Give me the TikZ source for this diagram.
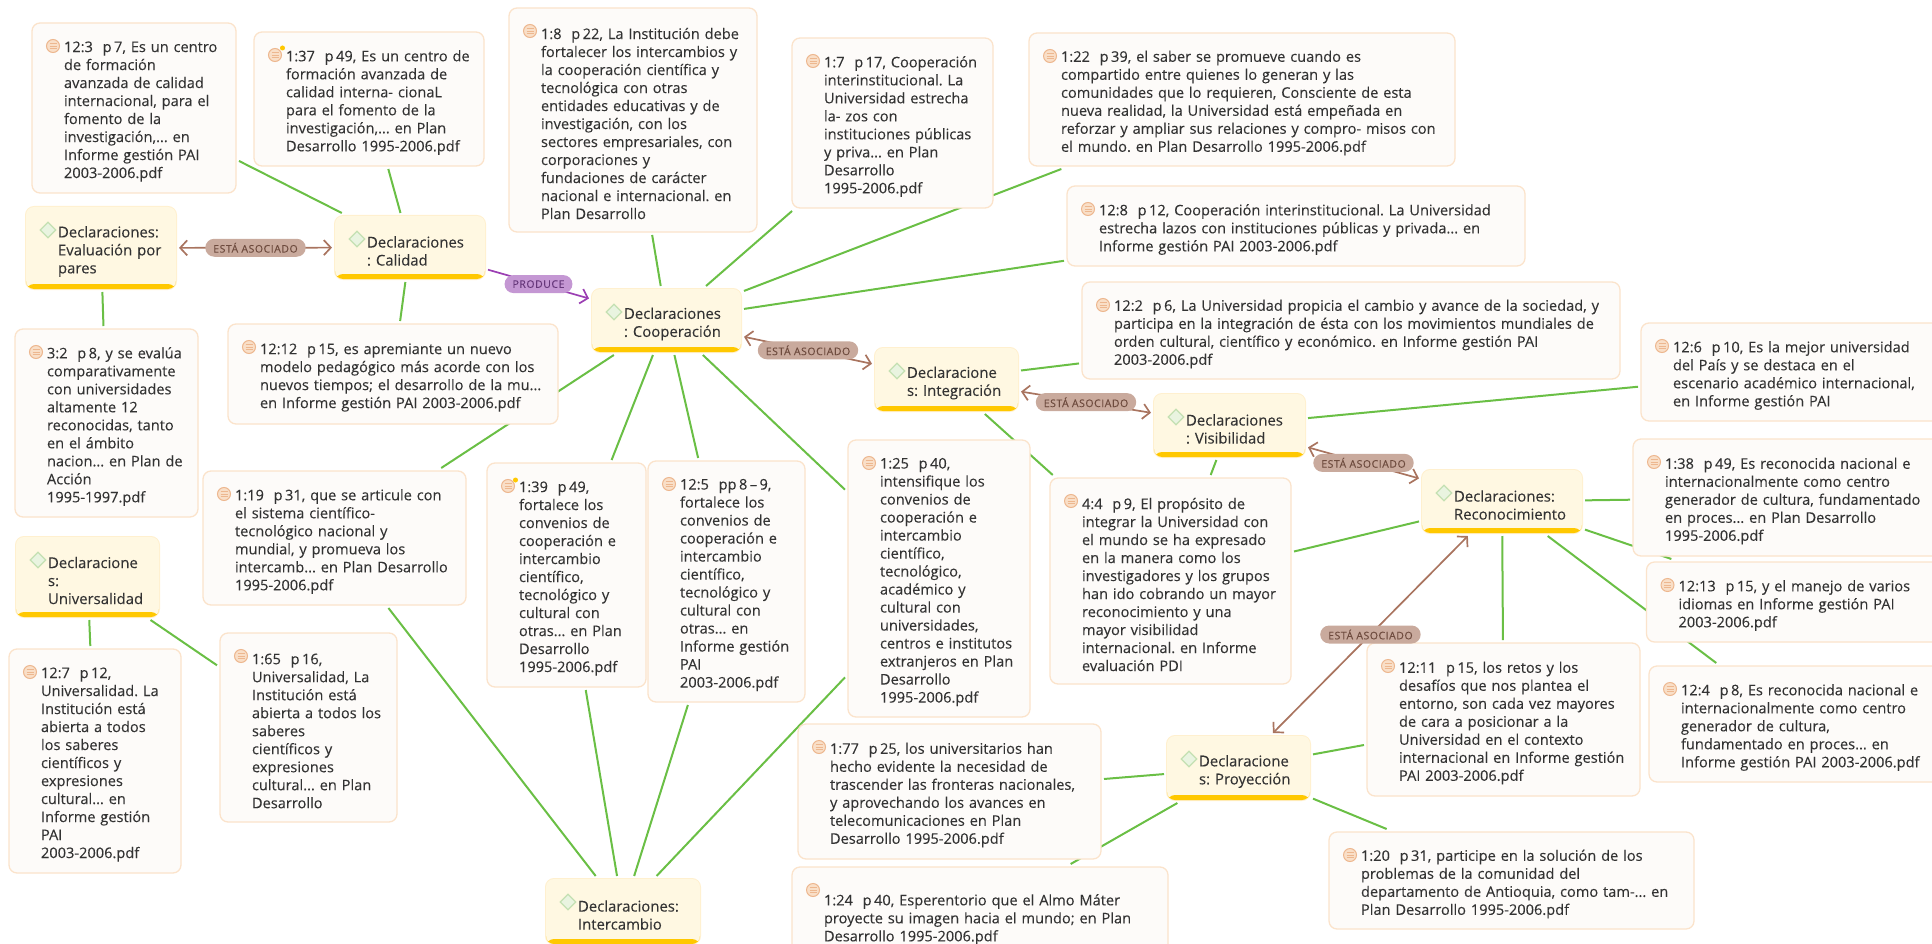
\documentclass[tikz,border=0pt]{standalone}
\usepackage{fontspec}
\setmainfont[FakeBold=0.12]{Open Sans}
\frenchspacing
\usetikzlibrary{arrows.meta, shapes.geometric, positioning, calc, backgrounds}
\definecolor{quotefill}{HTML}{FDFBF9}
\definecolor{quoteline}{HTML}{FBE3CB}
\definecolor{declfill}{HTML}{FFF8E2}
\definecolor{declline}{HTML}{FFF0CF}
\definecolor{declbar}{HTML}{FFC800}
\definecolor{iconfill}{HTML}{F9DFC8}
\definecolor{iconline}{HTML}{EDB78F}
\definecolor{diamondfill}{HTML}{E9F4E0}
\definecolor{diamondline}{HTML}{C4E0B2}
\definecolor{linkgreen}{HTML}{6ABF45}
\definecolor{assoc}{HTML}{A9745F}
\definecolor{assocpill}{HTML}{C9AA9D}
\definecolor{assoctext}{HTML}{6E4B3E}
\definecolor{prodline}{HTML}{9B3FB3}
\definecolor{prodpill}{HTML}{C497D3}
\definecolor{prodtext}{HTML}{66377A}
\definecolor{bodytext}{HTML}{333333}
\tikzset{
   myquoteicon/.style={circle, draw=iconline, fill=iconfill, line width=1pt, minimum size=13pt, inner sep=0pt,
      path picture={\draw[iconline, line width=.9pt]
         ($(path picture bounding box.center)+(-3.5,-2.5)$) -- +(7,0)
         ($(path picture bounding box.center)+(-3.5,0)$) -- +(7,0)
         ($(path picture bounding box.center)+(-3.5,2.5)$) -- +(7,0);}},
   mydeclicon/.style={diamond, aspect=1, draw=diamondline, fill=diamondfill, line width=1.2pt, minimum size=16pt, inner sep=0pt},
   mydot/.style={circle, fill=declbar, minimum size=5pt, inner sep=0pt},
   mytext/.style 2 args={rounded corners=8pt, inner xsep=4pt, inner ysep=0pt, outer sep=3pt,
      text=bodytext, align=left, font=\fontsize{14.6}{18}\selectfont, text width=#1-8, minimum height=#2,
      execute at begin node={\leftskip=28pt}, execute at end node={\par\kern-7pt}},
   myquote/.style 2 args={mytext={#1}{#2}, draw=quoteline, line width=1.3pt, fill=quotefill,
      append after command={node[myquoteicon] at ($(\tikzlastnode.north west)+(24,26)$) {}}},
   mydecl/.style 2 args={mytext={#1}{#2}, font=\fontsize{14.9}{18}\selectfont, preaction={draw=declline, line width=2pt}, fill=declfill,
      path picture={\fill[declbar] ([yshift=5pt]path picture bounding box.south west) rectangle (path picture bounding box.south east);},
      append after command={node[mydeclicon] at ($(\tikzlastnode.north west)+(25,26)$) {}}},
   mylink/.style={draw=linkgreen, line width=2pt},
   mypill/.style={rounded corners=9pt, minimum height=18pt, inner xsep=8pt, inner ysep=0pt,
      font=\fontsize{10.5}{12}\selectfont\addfontfeature{LetterSpace=5}},
   myassoc/.style={draw=assoc, line width=1.7pt, >={Straight Barb[length=7pt,width=15pt]}},
   myprod/.style={draw=prodline, line width=1.7pt, >={Straight Barb[length=7pt,width=15pt]}},
   assocpill/.style={mypill, fill=assocpill, text=assoctext},
   prodpill/.style={mypill, fill=prodpill, text=prodtext}
}
\begin{document}
\begin{tikzpicture}[x=1pt,y=-1pt]
      \useasboundingbox (0,0) rectangle (1932,944);
      \node[myquote={204}{170}] (q123) at (134,108) {12:3\ \ p\,7, Es un centro\\de formación\\avanzada de calidad\\internacional, para el\\fomento de la\\investigación,... en\\Informe gestión PAI\\2003-2006.pdf};
      \node[myquote={230}{134}] (q137) at (369,99) {1:37\ \ p\,49, Es un centro de\\formación avanzada de\\calidad interna- cionaL\\para el fomento de la\\investigación,... en Plan\\Desarrollo 1995-2006.pdf};
      \node[myquote={248}{224}] (q18) at (633,120) {1:8\ \ p\,22, La Institución debe\\fortalecer los intercambios y\\la cooperación científica y\\tecnológica con otras\\entidades educativas y de\\investigación, con los\\sectores empresariales, con\\corporaciones y\\fundaciones de carácter\\nacional e internacional. en\\Plan Desarrollo};
      \node[myquote={201}{170}] (q17) at (892.5,123) {1:7\ \ p\,17, Cooperación\\interinstitucional. La\\Universidad estrecha\\la- zos con\\instituciones públicas\\y priva... en Plan\\Desarrollo\\1995-2006.pdf};
      \node[myquote={426}{133}] (q122) at (1242,99.5) {1:22\ \ p\,39, el saber se promueve cuando es\\compartido entre quienes lo generan y las\\comunidades que lo requieren, Consciente de esta\\nueva realidad, la Universidad está empeñada en\\reforzar y ampliar sus relaciones y compro- misos con\\el mundo. en Plan Desarrollo 1995-2006.pdf};
      \node[myquote={458}{80}] (q128) at (1296,226) {12:8\ \ p\,12, Cooperación interinstitucional. La Universidad\\estrecha lazos con instituciones públicas y privada... en\\Informe gestión PAI 2003-2006.pdf};
      \node[myquote={538}{97}] (q122b) at (1351,330.5) {12:2\ \ p\,6, La Universidad propicia el cambio y avance de la sociedad, y\\participa en la integración de ésta con los movimientos mundiales de\\orden cultural, científico y económico. en Informe gestión PAI\\2003-2006.pdf};
      \node[myquote={308}{98}] (q126) at (1795,372) {12:6\ \ p\,10, Es la mejor universidad\\del País y se destaca en el\\escenario académico internacional,\\en Informe gestión PAI};
      \node[myquote={314}{117}] (q138) at (1790,497.5) {1:38\ \ p\,49, Es reconocida nacional e\\internacionalmente como centro\\generador de cultura, fundamentado\\en proces... en Plan Desarrollo\\1995-2006.pdf};
      \node[myquote={303}{80}] (q1213) at (1798,602) {12:13\ \ p\,15, y el manejo de varios\\idiomas en Informe gestión PAI\\2003-2006.pdf};
      \node[myquote={296}{116}] (q124) at (1797,724) {12:4\ \ p\,8, Es reconocida nacional e\\internacionalmente como centro\\generador de cultura,\\fundamentado en proces... en\\Informe gestión PAI 2003-2006.pdf};
      \node[myquote={273}{153}] (q1211) at (1503.5,719.5) {12:11\ \ p\,15, los retos y los\\desafíos que nos plantea el\\entorno, son cada vez mayores\\de cara a posicionar a la\\Universidad en el contexto\\internacional en Informe gestión\\PAI 2003-2006.pdf};
      \node[myquote={241}{206}] (q44) at (1170.5,581) {4:4\ \ p\,9, El propósito de\\integrar la Universidad con\\el mundo se ha expresado\\en la manera como los\\investigadores y los grupos\\han ido cobrando un mayor\\reconocimiento y una\\mayor visibilidad\\internacional. en Informe\\evaluación PDI};
      \node[myquote={182}{277}] (q125) at (939,578.5) {1:25\ \ p\,40,\\intensifique los\\convenios de\\cooperación e\\intercambio\\científico,\\tecnológico,\\académico y\\cultural con\\universidades,\\centros e institutos\\extranjeros en Plan\\Desarrollo\\1995-2006.pdf};
      \node[myquote={157}{241}] (q125b) at (726.5,581.5) {12:5\ \ pp\,8\,–\,9,\\fortalece los\\convenios de\\cooperación e\\intercambio\\científico,\\tecnológico y\\cultural con\\otras... en\\Informe gestión\\PAI\\2003-2006.pdf};
      \node[myquote={159}{224}] (q139) at (566.5,575) {1:39\ \ p\,49,\\fortalece los\\convenios de\\cooperación e\\intercambio\\científico,\\tecnológico y\\cultural con\\otras... en Plan\\Desarrollo\\1995-2006.pdf};
      \node[myquote={263}{134}] (q119) at (334.5,538) {1:19\ \ p\,31, que se articule con\\el sistema científico-\\tecnológico nacional y\\mundial, y promueva los\\intercamb... en Plan Desarrollo\\1995-2006.pdf};
      \node[myquote={330}{100}] (q1212) at (393,374) {12:12\ \ p\,15, es apremiante un nuevo\\modelo pedagógico más acorde con los\\nuevos tiempos; el desarrollo de la mu...\\en Informe gestión PAI 2003-2006.pdf};
      \node[myquote={183}{188}] (q32) at (106.5,423) {3:2\ \ p\,8, y se evalúa\\comparativamente\\con universidades\\altamente 12\\reconocidas, tanto\\en el ámbito\\nacion... en Plan de\\Acción\\1995-1997.pdf};
      \node[myquote={172}{224}] (q127) at (95,761) {12:7\ \ p\,12,\\Universalidad. La\\Institución está\\abierta a todos\\los saberes\\científicos y\\expresiones\\cultural... en\\Informe gestión\\PAI\\2003-2006.pdf};
      \node[myquote={177}{189}] (q165) at (308.5,727.5) {1:65\ \ p\,16,\\Universalidad, La\\Institución está\\abierta a todos los\\saberes\\científicos y\\expresiones\\cultural... en Plan\\Desarrollo};
      \node[myquote={303}{135}] (q177) at (949.5,791.5) {1:77\ \ p\,25, los universitarios han\\hecho evidente la necesidad de\\trascender las fronteras nacionales,\\y aprovechando los avances en\\telecomunicaciones en Plan\\Desarrollo 1995-2006.pdf};
      \node[myquote={376}{98}] (q124b) at (980,916) {1:24\ \ p\,40, Esperentorio que el Almo Máter\\proyecte su imagen hacia el mundo; en Plan\\Desarrollo 1995-2006.pdf};
      \node[myquote={365}{97}] (q120) at (1511.5,880.5) {1:20\ \ p\,31, participe en la solución de los\\problemas de la comunidad del\\departamento de Antioquia, como tam-... en\\Plan Desarrollo 1995-2006.pdf};
      \node[mydot] (dot137) at (282.5,48) {};
      \node[mydot] (dot139) at (515.5,480) {};
      \node[mydecl={150}{82}] (evaluacion) at (101,248) {Declaraciones:\\Evaluación por\\pares};
      \node[mydecl={150}{63}] (calidad) at (410,247.5) {Declaraciones\\: Calidad};
      \node[mydecl={149}{63}] (cooperacion) at (666.5,320.5) {Declaraciones\\: Cooperación};
      \node[mydecl={143}{63}] (integracion) at (946.5,379.5) {Declaracione\\s: Integración};
      \node[mydecl={151}{63}] (visibilidad) at (1229.5,425.5) {Declaraciones\\: Visibilidad};
      \node[mydecl={160}{63}] (reconocimiento) at (1502,501.5) {Declaraciones:\\Reconocimiento};
      \node[mydecl={143}{80}] (universalidad) at (87.5,577) {Declaracione\\s:\\Universalidad};
      \node[mydecl={143}{64}] (proyeccion) at (1238.5,768) {Declaracione\\s: Proyección};
      \node[mydecl={154}{65}] (intercambio) at (623,911.5) {Declaraciones:\\Intercambio};
      \begin{scope}[on background layer]
      \draw[mylink] (evaluacion) -- (q32);
      \draw[mylink] (calidad) -- (q123);
      \draw[mylink] (calidad) -- (q137);
      \draw[mylink] (calidad) -- (q1212);
      \draw[mylink] (universalidad) -- (q127);
      \draw[mylink] (universalidad) -- (q165);
      \draw[mylink] (cooperacion) -- (q18);
      \draw[mylink] (cooperacion) -- (q17);
      \draw[mylink] (cooperacion) -- (q122);
      \draw[mylink] (cooperacion) -- (q128);
      \draw[mylink] (cooperacion) -- (q119);
      \draw[mylink] (cooperacion) -- (q139);
      \draw[mylink] (cooperacion) -- (q125b);
      \draw[mylink] (cooperacion) -- (q125);
      \draw[mylink] (integracion) -- (q122b);
      \draw[mylink] (integracion) -- (q44);
      \draw[mylink] (visibilidad) -- (q126);
      \draw[mylink] (visibilidad) -- (q44);
      \draw[mylink] (reconocimiento) -- (q138);
      \draw[mylink] (reconocimiento) -- (q1213);
      \draw[mylink] (reconocimiento) -- (q124);
      \draw[mylink] (reconocimiento) -- (q1211);
      \draw[mylink] (reconocimiento) -- (q44);
      \draw[mylink] (proyeccion) -- (q177);
      \draw[mylink] (proyeccion) -- (q1211);
      \draw[mylink] (proyeccion) -- (q120);
      \draw[mylink] (proyeccion) -- (q124b);
      \draw[mylink] (intercambio) -- (q119);
      \draw[mylink] (intercambio) -- (q139);
      \draw[mylink] (intercambio) -- (q125b);
      \draw[mylink] (intercambio) -- (q125);
      \end{scope}
      \draw[myassoc,<->] (evaluacion) -- node[assocpill] (pill1) {ESTÁ ASOCIADO} (calidad);
      \draw[myprod,->] (calidad) -- node[prodpill] (pill2) {PRODUCE} (cooperacion);
      \draw[myassoc,<->] (cooperacion) -- node[assocpill] (pill3) {ESTÁ ASOCIADO} (integracion);
      \draw[myassoc,<->] (integracion) -- node[assocpill] (pill4) {ESTÁ ASOCIADO} (visibilidad);
      \draw[myassoc,<->] (visibilidad) -- node[assocpill] (pill5) {ESTÁ ASOCIADO} (reconocimiento);
      \draw[myassoc,<->] (reconocimiento) -- node[assocpill] (pill6) {ESTÁ ASOCIADO} (proyeccion);
\end{tikzpicture}
\end{document}
